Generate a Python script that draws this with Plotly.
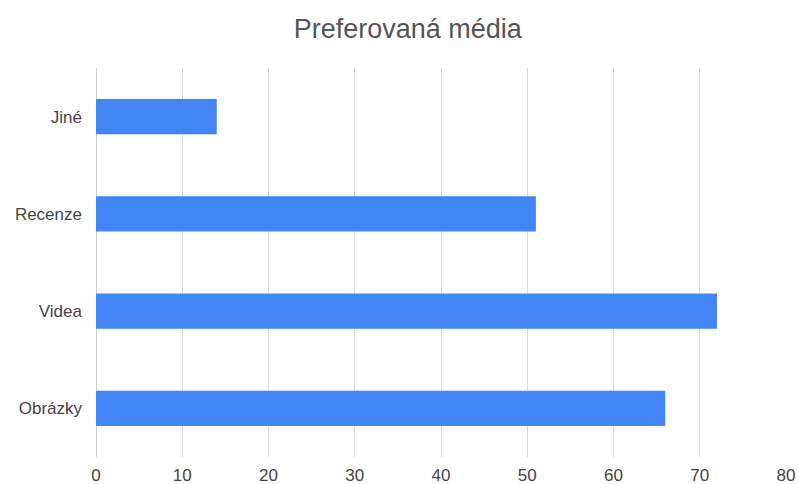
import plotly.graph_objects as go

categories = ["Obrázky", "Videa", "Recenze", "Jiné"]
values = [66, 72, 51, 14]
tick_vals = [0, 10, 20, 30, 40, 50, 60, 70, 80]

fig = go.Figure(go.Bar(
    x=values, y=categories, orientation="h",
    marker=dict(color="#4285F4", line=dict(width=0)),
))

fig.update_layout(
    width=798, height=484,
    margin=dict(l=96, r=12, t=68, b=27, autoexpand=False),
    paper_bgcolor="white", plot_bgcolor="white",
    bargap=0.64,
    showlegend=False,
    font=dict(family="Liberation Sans, Arial, sans-serif", color="#444444", size=17),
    title=dict(text="Preferovaná média", x=0.511, xanchor="center", y=0.94, yanchor="middle",
               font=dict(size=27, color="#555555")),
)
fig.update_xaxes(range=[0, 80], tickvals=tick_vals, showgrid=True, gridcolor="#d9d9d9",
                 zeroline=True, zerolinecolor="#d0d0d0", zerolinewidth=1, automargin=False,
                 showline=False, ticks="", ticklabelstandoff=6, fixedrange=True)
fig.update_yaxes(showgrid=False, showline=False, ticks="", ticklabelstandoff=13,
                 automargin=False, fixedrange=True)

fig.write_html("out.html", config={"displayModeBar": False},
               post_script="document.body.style.margin='0';document.body.style.overflow='hidden';")
